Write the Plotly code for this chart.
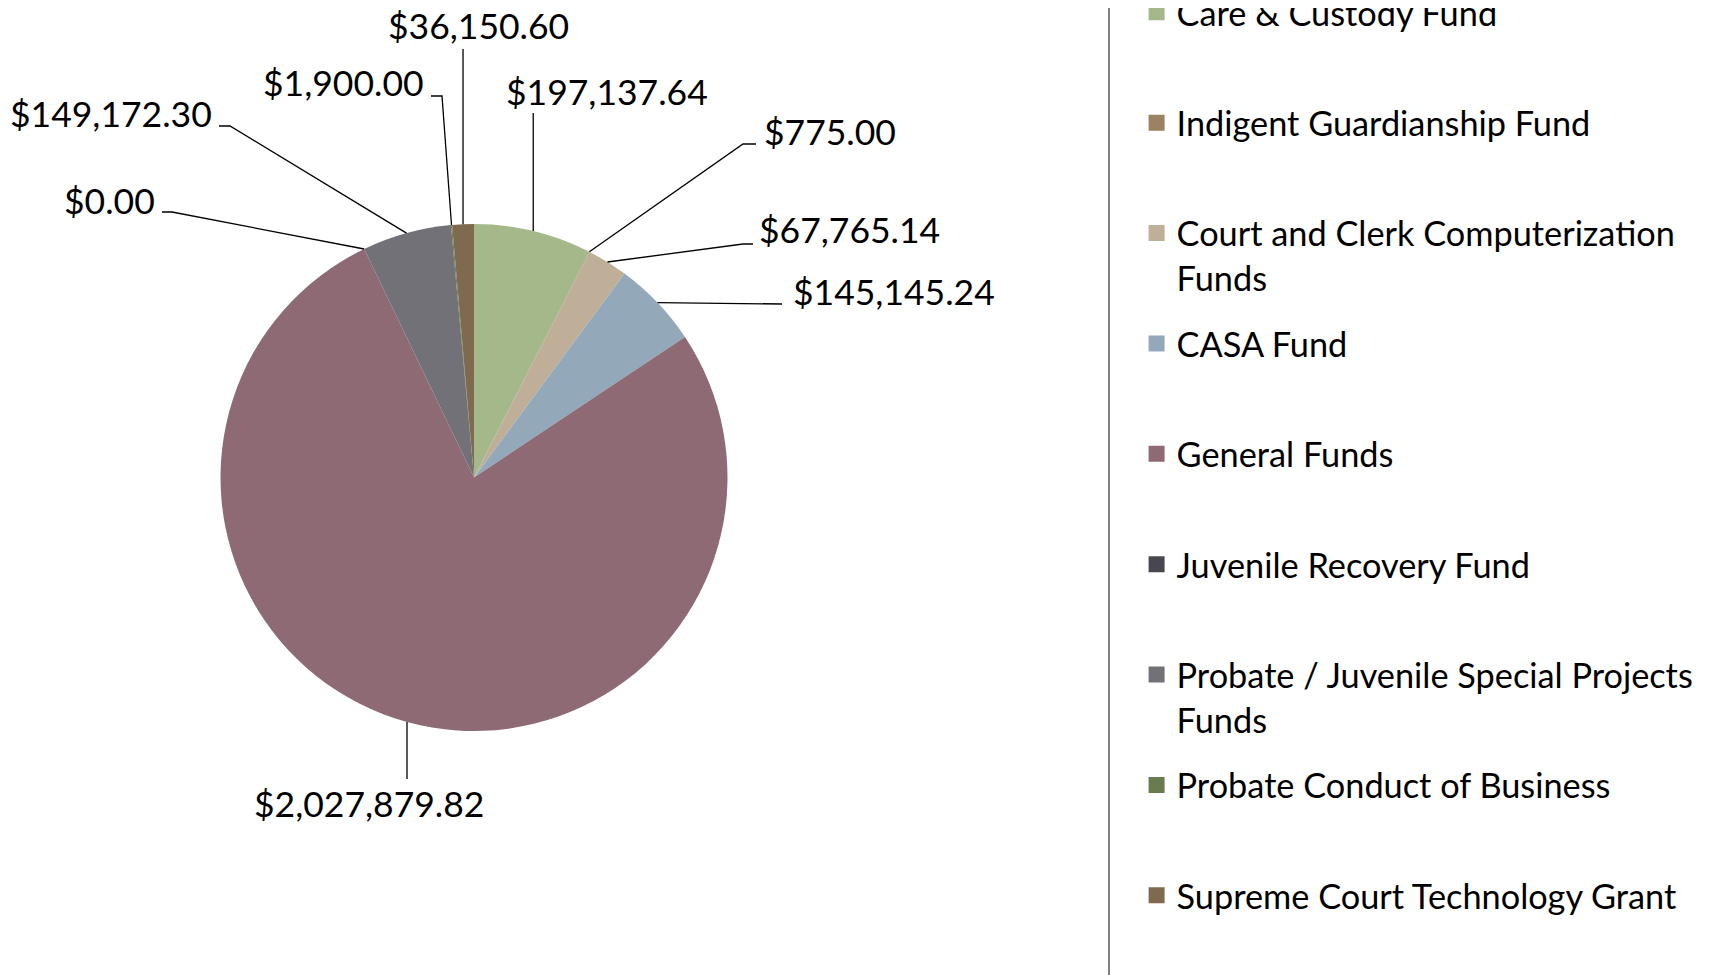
import math
import plotly.graph_objects as go

# ---------------- data ----------------
categories = [
    "Care & Custody Fund",
    "Indigent Guardianship Fund",
    "Court and Clerk Computerization Funds",
    "CASA Fund",
    "General Funds",
    "Juvenile Recovery Fund",
    "Probate / Juvenile Special Projects Funds",
    "Probate Conduct of Business",
    "Supreme Court Technology Grant",
]
values = [197137.64, 775.00, 67765.14, 145145.24, 2027879.82, 0.00, 149172.30, 1900.00, 36150.60]
legend_labels = [
    "Care & Custody Fund",
    "Indigent Guardianship Fund",
    "Court and Clerk Computerization<br>Funds",
    "CASA Fund",
    "General Funds",
    "Juvenile Recovery Fund",
    "Probate / Juvenile Special Projects<br>Funds",
    "Probate Conduct of Business",
    "Supreme Court Technology Grant",
]
colors = ["#A5B88A", "#9B8262", "#BFAE98", "#93A9BA", "#8E6A74",
          "#48474F", "#727177", "#687C4D", "#7E6A4F"]

# ---------------- layout constants ----------------
W, H = 1721, 975
OFF = 8  # default page body margin
CX, CY, R = 474.0, 477.5, 253.5
FONT = "Lato"
LABEL_SIZE = 35.5
LEGEND_SIZE = 34.3

# label placement (screen pixel positions of the text and leader elbows)
label_layout = [
    dict(tx=607, ty=91, xa="center", pts=[("ax", 113)]),
    dict(tx=762, ty=131, xa="left", pts=[(743, 144), (756, 144)]),
    dict(tx=757, ty=230, xa="left", pts=[(743, 244), (753, 244)]),
    dict(tx=791, ty=291, xa="left", pts=[(782, 304)]),
    dict(tx=369, ty=803, xa="center", pts=[("ax", 779)]),
    dict(tx=157, ty=200, xa="right", pts=[(172, 212), (162, 212)]),
    dict(tx=214, ty=113, xa="right", pts=[(230, 126), (219, 126)]),
    dict(tx=426, ty=83, xa="right", pts=[(442, 96), (431, 96)]),
    dict(tx=478, ty=26, xa="center", pts=[("ax", 49)]),
]


def px(x):
    return (x - OFF) / W


def py(y):
    return 1 - (y - OFF) / H


fig = go.Figure()

fig.add_trace(go.Pie(
    labels=categories,
    values=values,
    sort=False,
    direction="clockwise",
    rotation=0,
    marker=dict(colors=colors, line=dict(width=0)),
    textinfo="none",
    showlegend=False,
    domain=dict(x=[px(CX - R), px(CX + R)], y=[py(CY + R), py(CY - R)]),
))

# legend entries (one group per category for spacing)
for i, (lab, col) in enumerate(zip(legend_labels, colors)):
    name = lab
    if "<br>" not in lab and i < len(legend_labels) - 1:
        name = lab + "<br>\u00a0"
    fig.add_trace(go.Scatter(
        x=[None], y=[None], mode="markers",
        marker=dict(symbol="square", size=16, color=col),
        name=name, legendgroup=f"g{i}", showlegend=True,
    ))

# data labels with leader lines
total = sum(values)
cum = 0.0
shapes = []
annotations = []
for v, spec in zip(values, label_layout):
    mid = (cum + v / 2) / total * 2 * math.pi
    cum += v
    ax = CX + R * math.sin(mid)
    ay = CY - R * math.cos(mid)
    path_pts = [(ax, ay)]
    for (x, y) in spec["pts"]:
        path_pts.append((ax if x == "ax" else x, y))
    path = "M " + " L ".join(f"{px(x):.5f},{py(y):.5f}" for x, y in path_pts)
    shapes.append(dict(type="path", xref="paper", yref="paper", path=path,
                       line=dict(color="black", width=1.3)))
    annotations.append(dict(
        xref="paper", yref="paper", x=px(spec["tx"]), y=py(spec["ty"]),
        xanchor=spec["xa"], yanchor="middle", showarrow=False,
        text=f"${v:,.2f}", font=dict(family=FONT, size=LABEL_SIZE, color="black"),
    ))

# legend frame
shapes.append(dict(type="rect", xref="paper", yref="paper",
                   x0=px(1109), x1=px(1719.5), y0=-0.05, y1=1.05,
                   line=dict(color="black", width=1), fillcolor="rgba(0,0,0,0)"))

fig.update_layout(
    width=W, height=H,
    margin=dict(l=0, r=0, t=0, b=0, autoexpand=False),
    paper_bgcolor="white", plot_bgcolor="white",
    xaxis=dict(visible=False), yaxis=dict(visible=False),
    showlegend=True,
    legend=dict(
        x=px(1136.6), y=py(-16.5), xanchor="left", yanchor="top",
        font=dict(family=FONT, size=LEGEND_SIZE, color="black"),
        valign="top", tracegroupgap=18.2, bgcolor="rgba(0,0,0,0)",
        borderwidth=0, itemclick=False, itemdoubleclick=False,
    ),
    shapes=shapes,
    annotations=annotations,
)
try:
    fig.update_layout(legend_maxheight=H)
except ValueError:
    fig.update_layout(legend_y=1.0)

fig.write_html("out.html")
